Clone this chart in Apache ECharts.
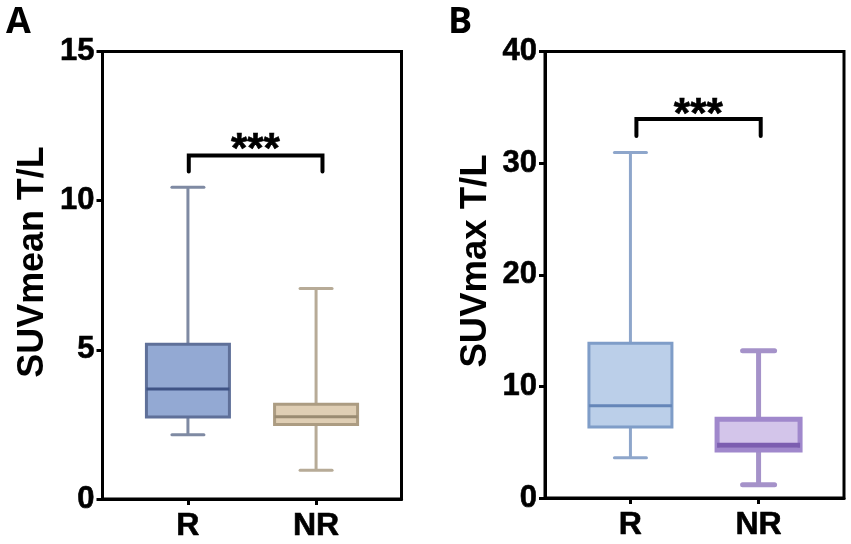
<!DOCTYPE html>
<html>
<head>
<meta charset="utf-8">
<style>html,body{margin:0;padding:0;background:#fff}#main{width:851px;height:544px}</style>
<script src="https://cdn.jsdelivr.net/npm/echarts@6/dist/echarts.min.js"></script>
</head>
<body>
<div id="main"></div>
<script>
// x positions on a 0-7 axis, so the two boxes sit where they do in the figure
const xPositions = [2, 5];
const categories = ['R', 'NR'];

// [low, q1, median, q3, high]
const meanR = [2.15, 2.75, 3.69, 5.19, 10.45];
const meanNR = [0.96, 2.5, 2.76, 3.18, 7.06];
const maxR = [3.61, 6.36, 8.27, 13.86, 30.95];
const maxNR = [1.19, 4.3, 4.72, 7.05, 13.2];

// [x, y] of the significance brackets
const bracketMean = [[2.02, 10.98], [2.02, 11.51], [5.15, 11.51], [5.15, 10.98]];
const bracketMax = [[2.14, 32.44], [2.14, 33.96], [5.05, 33.96], [5.05, 32.44]];
const starsMean = [[3.58, 11.67]];
const starsMax = [[3.59, 34.27]];

const meanTicks = [0, 15];
const maxTicks = [0, 40];

const styles = {
  meanR: { fill: '#93a9d3', stroke: '#7f8aa3', box: '#5f7099', median: '#3f5385', width: 3, capWidth: 3 },
  meanNR: { fill: '#dfceb4', stroke: '#b7ab97', box: '#ac9c82', median: '#9a8b72', width: 3, capWidth: 3 },
  maxR: { fill: '#bbcfe9', stroke: '#8ea6cb', box: '#7f9dc8', median: '#6586b8', width: 3, capWidth: 3 },
  maxNR: { fill: '#d3c5ea', stroke: '#a592c9', box: '#a088cc', median: '#7c5eb0', width: 5, capWidth: 5 }
};

const boxWidth = 83;
const capLength = 32;

function boxItem(style) {
  return function (params, api) {
    const x = api.coord([api.value(0), 0])[0];
    const y = i => api.coord([0, api.value(i)])[1];
    const low = y(1), q1 = y(2), med = y(3), q3 = y(4), high = y(5);
    const half = boxWidth / 2;
    const lineStyle = { stroke: style.stroke, lineWidth: style.width, fill: null };
    const capStyle = { stroke: style.stroke, lineWidth: style.capWidth, lineCap: 'round', fill: null };
    return {
      type: 'group',
      children: [
        { type: 'line', shape: { x1: x, y1: high, x2: x, y2: q3 }, style: lineStyle },
        { type: 'line', shape: { x1: x, y1: q1, x2: x, y2: low }, style: lineStyle },
        { type: 'line', shape: { x1: x - capLength / 2, y1: high, x2: x + capLength / 2, y2: high }, style: capStyle },
        { type: 'line', shape: { x1: x - capLength / 2, y1: low, x2: x + capLength / 2, y2: low }, style: capStyle },
        { type: 'rect', shape: { x: x - half, y: q3, width: boxWidth, height: q1 - q3 }, style: { fill: style.fill, stroke: style.box, lineWidth: style.width } },
        { type: 'line', shape: { x1: x - half, y1: med, x2: x + half, y2: med }, style: { stroke: style.median, lineWidth: style.width, fill: null } }
      ]
    };
  };
}

function starsItem(params, api) {
  const p = api.coord([api.value(0), api.value(1)]);
  return {
    type: 'text',
    style: { text: '***', x: p[0], y: p[1], align: 'center', verticalAlign: 'middle', fill: '#000', stroke: '#000', lineWidth: 0.6, font: 'bold 42px "Liberation Sans"' }
  };
}

const font = '"Liberation Sans", Arial, sans-serif';
const grids = [
  { left: 102.5, top: 51.5, width: 299, height: 447.5, show: true, borderColor: '#000', borderWidth: 3 },
  { left: 545, top: 51.5, width: 299, height: 446.5, show: true, borderColor: '#000', borderWidth: 3 }
];

function xAxis(gridIndex) {
  return {
    type: 'value', gridIndex, min: 0, max: 7,
    splitLine: { show: false },
    axisLine: { show: true, onZero: false, lineStyle: { color: '#000', width: 3 } },
    axisTick: { show: true, length: 6, customValues: xPositions, lineStyle: { color: '#000', width: 3 } },
    axisLabel: {
      customValues: xPositions, margin: 11, color: '#000', fontFamily: font, fontWeight: 'bold', fontSize: 32,
      textBorderColor: '#000', textBorderWidth: 0.6,
      formatter: v => categories[xPositions.indexOf(v)]
    }
  };
}

function yAxis(gridIndex, ticks, interval) {
  return {
    type: 'value', gridIndex, min: ticks[0], max: ticks[1], interval,
    splitLine: { show: false },
    axisLine: { show: true, onZero: false, lineStyle: { color: '#000', width: 3 } },
    axisTick: { show: true, length: 6, lineStyle: { color: '#000', width: 3 } },
    axisLabel: { margin: 8, color: '#000', fontFamily: font, fontWeight: 'bold', fontSize: 31, textBorderColor: '#000', textBorderWidth: 0.6 }
  };
}

function boxSeries(axis, values, style, i) {
  return {
    type: 'custom', xAxisIndex: axis, yAxisIndex: axis, clip: false,
    renderItem: boxItem(style),
    encode: { x: 0, y: [1, 2, 3, 4, 5] },
    data: [[xPositions[i]].concat(values)]
  };
}

function bracketSeries(axis, data) {
  return {
    type: 'line', xAxisIndex: axis, yAxisIndex: axis, data, symbol: 'none',
    lineStyle: { color: '#000', width: 4, cap: 'round', join: 'miter' }
  };
}

function starSeries(axis, data) {
  return { type: 'custom', xAxisIndex: axis, yAxisIndex: axis, renderItem: starsItem, data };
}

// axis titles placed by hand, the reference has them off centre
function axisTitle(text, x, y, size, squeeze) {
  return {
    type: 'text', x, y, rotation: Math.PI / 2, scaleX: squeeze,
    style: { text, align: 'center', verticalAlign: 'middle', fill: '#000', font: 'bold ' + size + 'px "Liberation Sans"' }
  };
}

const chart = echarts.init(document.getElementById('main'));
chart.setOption({
  animation: false,
  backgroundColor: '#fff',
  grid: grids,
  xAxis: [xAxis(0), xAxis(1)],
  yAxis: [yAxis(0, meanTicks, 5), yAxis(1, maxTicks, 10)],
  graphic: [
    { type: 'text', left: 6, top: 5, style: { text: 'A', fill: '#000', font: 'bold 36px "Open Sans"' } },
    { type: 'text', left: 448, top: 5, style: { text: 'B', fill: '#000', font: 'bold 36px "Open Sans"' } },
    axisTitle('SUVmean T/L', 33, 262, 37, 0.97),
    axisTitle('SUVmax T/L', 476, 261, 36.5, 1)
  ],
  series: [
    boxSeries(0, meanR, styles.meanR, 0),
    boxSeries(0, meanNR, styles.meanNR, 1),
    bracketSeries(0, bracketMean),
    starSeries(0, starsMean),
    boxSeries(1, maxR, styles.maxR, 0),
    boxSeries(1, maxNR, styles.maxNR, 1),
    bracketSeries(1, bracketMax),
    starSeries(1, starsMax)
  ]
});
</script>
</body>
</html>
